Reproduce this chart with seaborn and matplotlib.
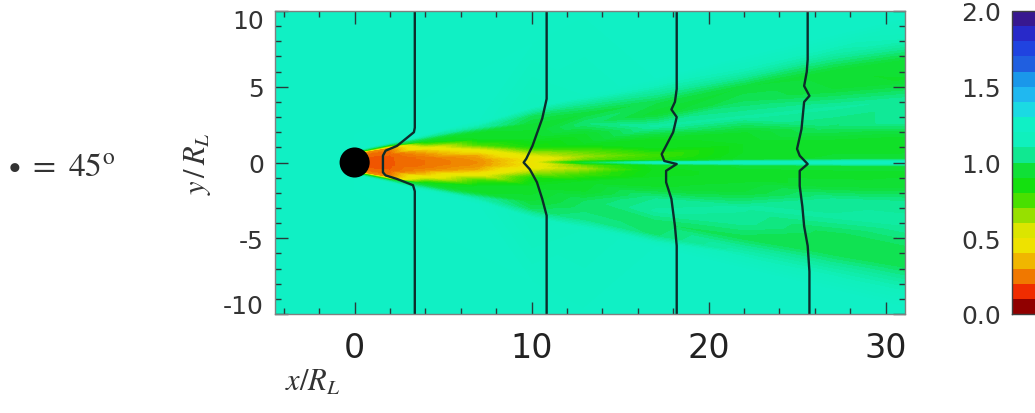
import numpy as np
import matplotlib
matplotlib.use("Agg")
import matplotlib.pyplot as plt
import matplotlib.tri as mtri
import matplotlib.transforms as mtransforms
from matplotlib.colors import LinearSegmentedColormap, Normalize
from matplotlib.cm import ScalarMappable
from matplotlib.ticker import MultipleLocator
import seaborn as sns

# ---------------- data ----------------
# colour scale (value -> colour)
cmap_values = [0.00, 0.03, 0.10, 0.17, 0.25, 0.32, 0.40, 0.50, 0.58, 0.66, 0.75,
               0.85, 0.97, 1.05, 1.15, 1.30, 1.40, 1.50, 1.60, 1.68, 1.80, 1.90, 2.00]
cmap_colors = ["#900000", "#e01000", "#f02800", "#f06000", "#f09000", "#f0b800",
               "#f0e000", "#e8e800", "#c0e000", "#80e000", "#40e000", "#10e010",
               "#10e040", "#10e890", "#10f0bc", "#10f0c8", "#20d0f0", "#20b0f0",
               "#1890e8", "#2060e0", "#2040e0", "#2828c8", "#381890"]
cbar_ticks = [0.0, 0.5, 1.0, 1.5, 2.0]
cbar_ticklabels = ["0.0", "0.5", "1.0", "1.5", "2.0"]

background_value = 1.25

# wake field: value sampled along rays y = slope * (x + 3) at several x positions
wake_apex = -3.0
wake_x = [0, 2, 4, 7, 10, 13, 17, 22, 27, 31.1]
wake_slope = [-0.6, -0.28, -0.24, -0.20, -0.16, -0.12, -0.08, -0.05, -0.025, -0.008, 0.0,
              0.008, 0.025, 0.05, 0.08, 0.12, 0.16, 0.20, 0.24, 0.28, 0.6]
wake_x0 = [1.25, 1.25, 1.00, 0.25, 0.20, 0.18, 0.17, 0.17, 0.17, 0.17, 0.17,
           0.17, 0.17, 0.17, 0.17, 0.18, 0.20, 0.25, 1.00, 1.25, 1.25]
wake_x2 = [1.25, 1.25, 1.00, 0.25, 0.20, 0.18, 0.17, 0.17, 0.17, 0.17, 0.17,
           0.17, 0.17, 0.17, 0.17, 0.18, 0.20, 0.25, 1.00, 1.25, 1.25]
wake_x4 = [1.25, 1.25, 1.05, 0.88, 0.60, 0.35, 0.25, 0.21, 0.20, 0.20, 0.20,
           0.20, 0.20, 0.21, 0.25, 0.35, 0.60, 0.88, 1.05, 1.25, 1.25]
wake_x7 = [1.25, 1.25, 1.10, 0.92, 0.90, 0.75, 0.45, 0.30, 0.26, 0.25, 0.25,
           0.25, 0.26, 0.30, 0.45, 0.75, 0.90, 0.92, 1.10, 1.25, 1.25]
wake_x10 = [1.25, 1.15, 1.00, 0.95, 0.92, 0.90, 0.82, 0.60, 0.45, 0.42, 0.45,
            0.42, 0.45, 0.60, 0.82, 0.90, 0.92, 0.95, 1.00, 1.15, 1.25]
wake_x13 = [1.25, 1.20, 1.05, 1.02, 1.00, 0.92, 0.90, 0.75, 0.60, 0.70, 0.95,
            0.70, 0.62, 0.72, 0.90, 0.92, 1.02, 0.95, 1.05, 1.20, 1.25]
wake_x17 = [1.25, 1.25, 1.02, 1.00, 1.08, 1.05, 0.92, 0.90, 0.88, 0.90, 1.20,
            0.80, 0.75, 0.88, 0.90, 1.08, 0.93, 0.98, 1.10, 1.25, 1.25]
wake_x22 = [1.25, 1.25, 1.12, 0.98, 1.06, 1.08, 0.95, 0.92, 0.92, 0.93, 1.22,
            0.92, 0.90, 0.90, 0.92, 1.08, 1.00, 0.95, 1.12, 1.25, 1.25]
wake_x27 = [1.25, 1.25, 1.12, 0.98, 0.98, 1.08, 1.05, 0.93, 0.92, 0.93, 1.22,
            0.93, 0.92, 0.92, 1.02, 1.08, 0.95, 0.93, 1.10, 1.25, 1.25]
wake_x31 = [1.25, 1.25, 1.12, 0.98, 1.00, 1.08, 1.07, 0.95, 0.92, 0.93, 1.22,
            0.93, 0.92, 0.92, 1.07, 1.07, 0.92, 0.95, 1.15, 1.25, 1.25]

# black phase-front contours
front1_x = [3.4, 3.4, 3.35, 2.4, 1.75, 1.6, 1.6, 1.75, 2.4, 3.3, 3.4, 3.4]
front1_y = [10, 2.3, 2.0, 1.1, 0.78, 0.45, -0.65, -0.85, -1.09, -1.5, -1.9, -10]
front2_x = [10.85, 10.85, 10.6, 10.05, 9.7, 9.55, 9.9, 10.3, 10.6, 10.85, 10.85]
front2_y = [10, 4.2, 2.9, 1.1, 0.25, 0.0, -0.45, -1.3, -2.4, -3.5, -10]
front3_x = [18.2, 18.2, 18.1, 17.9, 18.2, 18.0, 17.6, 17.35, 17.5, 18.2, 17.6, 17.6,
            17.9, 18.1, 18.2, 18.2]
front3_y = [10, 4.85, 4.0, 3.5, 3.0, 2.0, 1.1, 0.55, 0.1, -0.1, -0.55, -1.3,
            -2.4, -4.2, -5.5, -10]
front4_x = [25.6, 25.6, 25.55, 25.4, 25.7, 25.4, 25.25, 25.0, 25.15, 25.6, 25.15,
            25.15, 25.3, 25.4, 25.6, 25.7, 25.7]
front4_y = [10, 6.8, 6.0, 5.05, 4.4, 4.0, 2.2, 0.9, 0.45, -0.1, -0.55, -1.55,
            -2.9, -4.2, -5.5, -7.2, -10]

body_x = [0.0]
body_y = [0.0]

x_ticks = [0, 10, 20, 30]
y_ticks = [-10, -5, 0, 5, 10]
y_ticklabels = ["-10", "-5", "0", "5", "10"]

# ---------------- figure ----------------
sns.set_theme(style="white")
plt.rcParams['font.family'] = ['DejaVu Sans']
plt.rcParams['mathtext.fontset'] = 'stix'

W, H = 1035, 414
fig = plt.figure(figsize=(W / 100, H / 100), dpi=100)
fig.patch.set_facecolor("white")
ax = fig.add_axes([275 / W, (H - 315) / H, 630 / W, 303 / H])

cmap = LinearSegmentedColormap.from_list(
    "idl_rainbow", list(zip(np.array(cmap_values) / 2.0, cmap_colors)), N=256)
norm = Normalize(vmin=0, vmax=2)
ax.set_facecolor(cmap(norm(background_value)))

columns = [wake_x0, wake_x2, wake_x4, wake_x7, wake_x10, wake_x13,
           wake_x17, wake_x22, wake_x27, wake_x31]
V = np.array(columns).T                       # rows: slopes, cols: x
XX, SS = np.meshgrid(np.array(wake_x, float), np.array(wake_slope, float))
YY = SS * (XX - wake_apex)
tri_grid = mtri.Triangulation(XX.ravel(), SS.ravel() * 50)
tri_xy = mtri.Triangulation(XX.ravel(), YY.ravel(), triangles=tri_grid.triangles)
ax.tricontourf(tri_xy, V.ravel(), levels=np.linspace(0, 2, 81), cmap=cmap,
               norm=norm, extend="both", zorder=1)

line_color = "#0d2b2b"
for fx, fy in [(front1_x, front1_y), (front2_x, front2_y),
               (front3_x, front3_y), (front4_x, front4_y)]:
    sns.lineplot(x=fx, y=fy, sort=False, estimator=None, color=line_color,
                 linewidth=1.7, ax=ax, zorder=3)

sns.scatterplot(x=body_x, y=body_y, s=470, color="black", edgecolor="none",
                ax=ax, zorder=5, legend=False)

ax.set_xlim(-4.5, 31.1)
ax.set_ylim(-10, 10)
ax.set_xticks(x_ticks)
ax.set_xticklabels([str(t) for t in x_ticks], fontsize=24, color="#222222",
                   family="DejaVu Sans")
ax.set_yticks(y_ticks)
ax.set_yticklabels(y_ticklabels, fontsize=18, color="#333333")
ax.xaxis.set_minor_locator(MultipleLocator(2))
ax.yaxis.set_minor_locator(MultipleLocator(1))
ax.tick_params(which="both", direction="in", top=True, right=True,
               bottom=True, left=True, color="#2a3a3a", width=1)
ax.tick_params(which="major", length=9)
ax.tick_params(which="minor", length=4)
ax.tick_params(axis="x", which="major", pad=12)
ax.tick_params(axis="y", which="major", pad=8)
for sp in ax.spines.values():
    sp.set_color("#808080")
    sp.set_linewidth(1.0)
    sp.set_zorder(4)
ax.grid(False)
ax.set_axisbelow(False)

# IDL-style: end labels nudged inward
ylabels = ax.get_yticklabels()
ylabels[0].set_transform(ylabels[0].get_transform() +
                         mtransforms.ScaledTranslation(0, 10 / 100, fig.dpi_scale_trans))
ylabels[-1].set_transform(ylabels[-1].get_transform() +
                          mtransforms.ScaledTranslation(0, -8 / 100, fig.dpi_scale_trans))

ax.set_xlabel(r"$x/R_L$", fontsize=22, color="#333333")
ax.xaxis.set_label_coords(0.06, -0.175)
ax.set_ylabel(r"$y\,/\,R_L$", fontsize=22, color="#333333")
ax.yaxis.set_label_coords(-0.098, 0.5)

fig.text(8 / W, 1 - 167 / H, r"$\bullet\ =\ 45^{\rm o}$", fontsize=24,
         color="#333333", va="center", ha="left")

# colour bar
cax = fig.add_axes([1012 / W, (H - 315) / H, 30 / W, 303 / H])
sm = ScalarMappable(norm=norm, cmap=cmap.resampled(20))
cb = fig.colorbar(sm, cax=cax, ticks=cbar_ticks)
cb.ax.yaxis.set_ticks_position("left")
cb.ax.set_yticklabels(cbar_ticklabels, fontsize=18, color="#333333")
cb.ax.tick_params(length=0, pad=8)
cb.outline.set_edgecolor("#404040")
cb.outline.set_linewidth(1.0)

fig.savefig("out.png", dpi=100, facecolor="white")
